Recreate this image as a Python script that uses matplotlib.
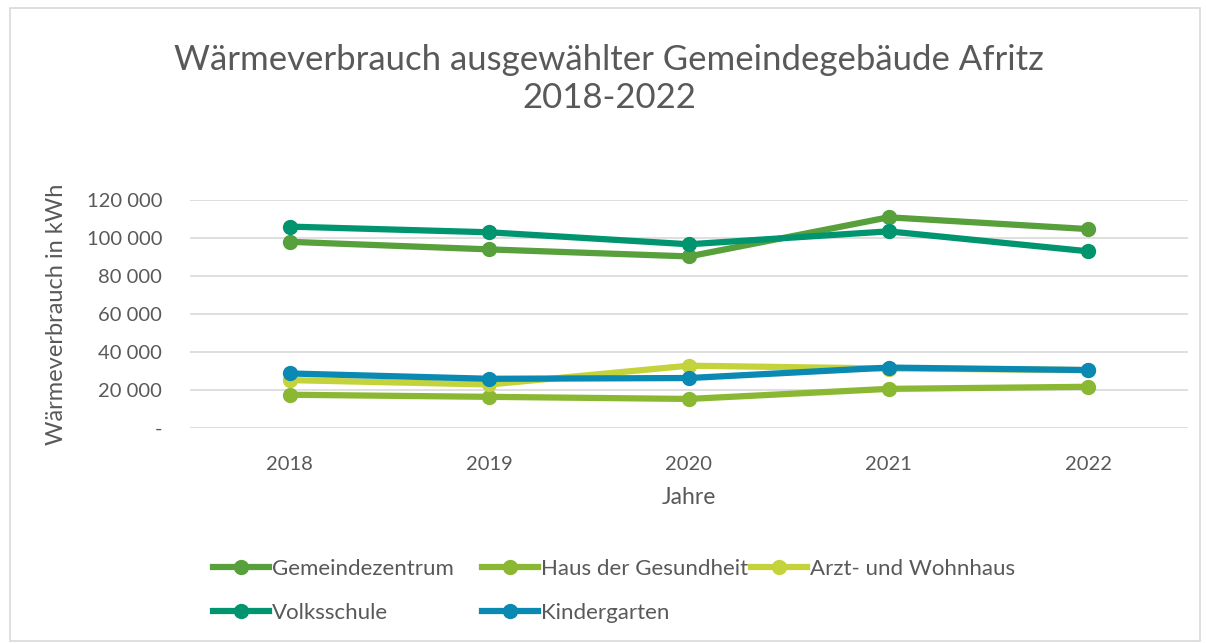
import matplotlib
matplotlib.use("Agg")
import matplotlib.pyplot as plt
from matplotlib.patches import Rectangle
from matplotlib.lines import Line2D
from matplotlib.ticker import FuncFormatter

years = ["2018", "2019", "2020", "2021", "2022"]
gemeindezentrum = [98000, 94000, 90300, 110900, 104700]
haus_gesundheit = [17500, 16400, 15300, 20600, 21700]
arzt_wohnhaus = [25200, 22900, 32800, 31300, 30500]
volksschule = [106000, 103000, 96700, 103500, 93000]
kindergarten = [28700, 25900, 26300, 31800, 30500]

series = [
    ("Gemeindezentrum", gemeindezentrum, "#57A03B"),
    ("Haus der Gesundheit", haus_gesundheit, "#8BB833"),
    ("Arzt- und Wohnhaus", arzt_wohnhaus, "#C4D33B"),
    ("Volksschule", volksschule, "#00956F"),
    ("Kindergarten", kindergarten, "#0A89B2"),
]

plt.rcParams['font.family'] = ['Lato', 'DejaVu Sans']
txt = "#595959"
W, H = 1206, 643
LW, MS = 4.5, 10

fig = plt.figure(figsize=(12.06, 6.43), dpi=100)
fig.patches.append(Rectangle((0.008, 0.003), 0.987, 0.985, transform=fig.transFigure,
                             fill=False, edgecolor="#D9D9D9", linewidth=1.2))

ax = fig.add_axes([190 / W, 1 - 428 / H, 998 / W, 228 / H])
x = list(range(len(years)))
for name, vals, col in series:
    ax.plot(x, vals, color=col, linewidth=LW, marker="o", markersize=MS,
            label=name, zorder=3)

ax.set_xlim(-0.5, 4.5)
ax.set_ylim(0, 120000)
ax.set_yticks(range(0, 120001, 20000))
ax.yaxis.set_major_formatter(FuncFormatter(lambda v, p: "-" if v == 0 else f"{int(v):,}".replace(",", " ")))
ax.set_xticks(x)
ax.set_xticklabels(years)
ax.grid(axis="y", color="#D9D9D9", linewidth=1.2, zorder=0)
ax.set_axisbelow(True)
for s in ax.spines.values():
    s.set_visible(False)
ax.xaxis.set_tick_params(length=0, labelsize=14.5, colors=txt, pad=20)
ax.yaxis.set_tick_params(length=0, labelsize=14.5, colors=txt, pad=20)
ax.set_xlabel("Jahre", fontsize=16.5, color=txt, labelpad=10)
ax.set_ylabel("Wärmeverbrauch in kWh", fontsize=17, color=txt, labelpad=14)

fig.text(0.505, 1 - 79 / H, "Wärmeverbrauch ausgewählter Gemeindegebäude Afritz\n2018-2022",
         ha="center", va="center", fontsize=25, color=txt, linespacing=1.2)

# legend: Excel-like grid layout, 3 columns of equal width
handles = {name: Line2D([], [], color=col, linewidth=LW, marker="o", markersize=MS)
           for name, vals, col in series}
for i, (name, vals, col) in enumerate(series):
    r, c = divmod(i, 3)
    xp = 213 + 269 * c
    yp = 569 + 44 * r
    fig.legend([handles[name]], [name], loc="center left",
               bbox_to_anchor=(xp / W, 1 - yp / H), frameon=False,
               fontsize=16, handlelength=2.5, handletextpad=0.15,
               borderpad=0, borderaxespad=0, labelcolor=txt)

fig.savefig("out.png", dpi=100)
